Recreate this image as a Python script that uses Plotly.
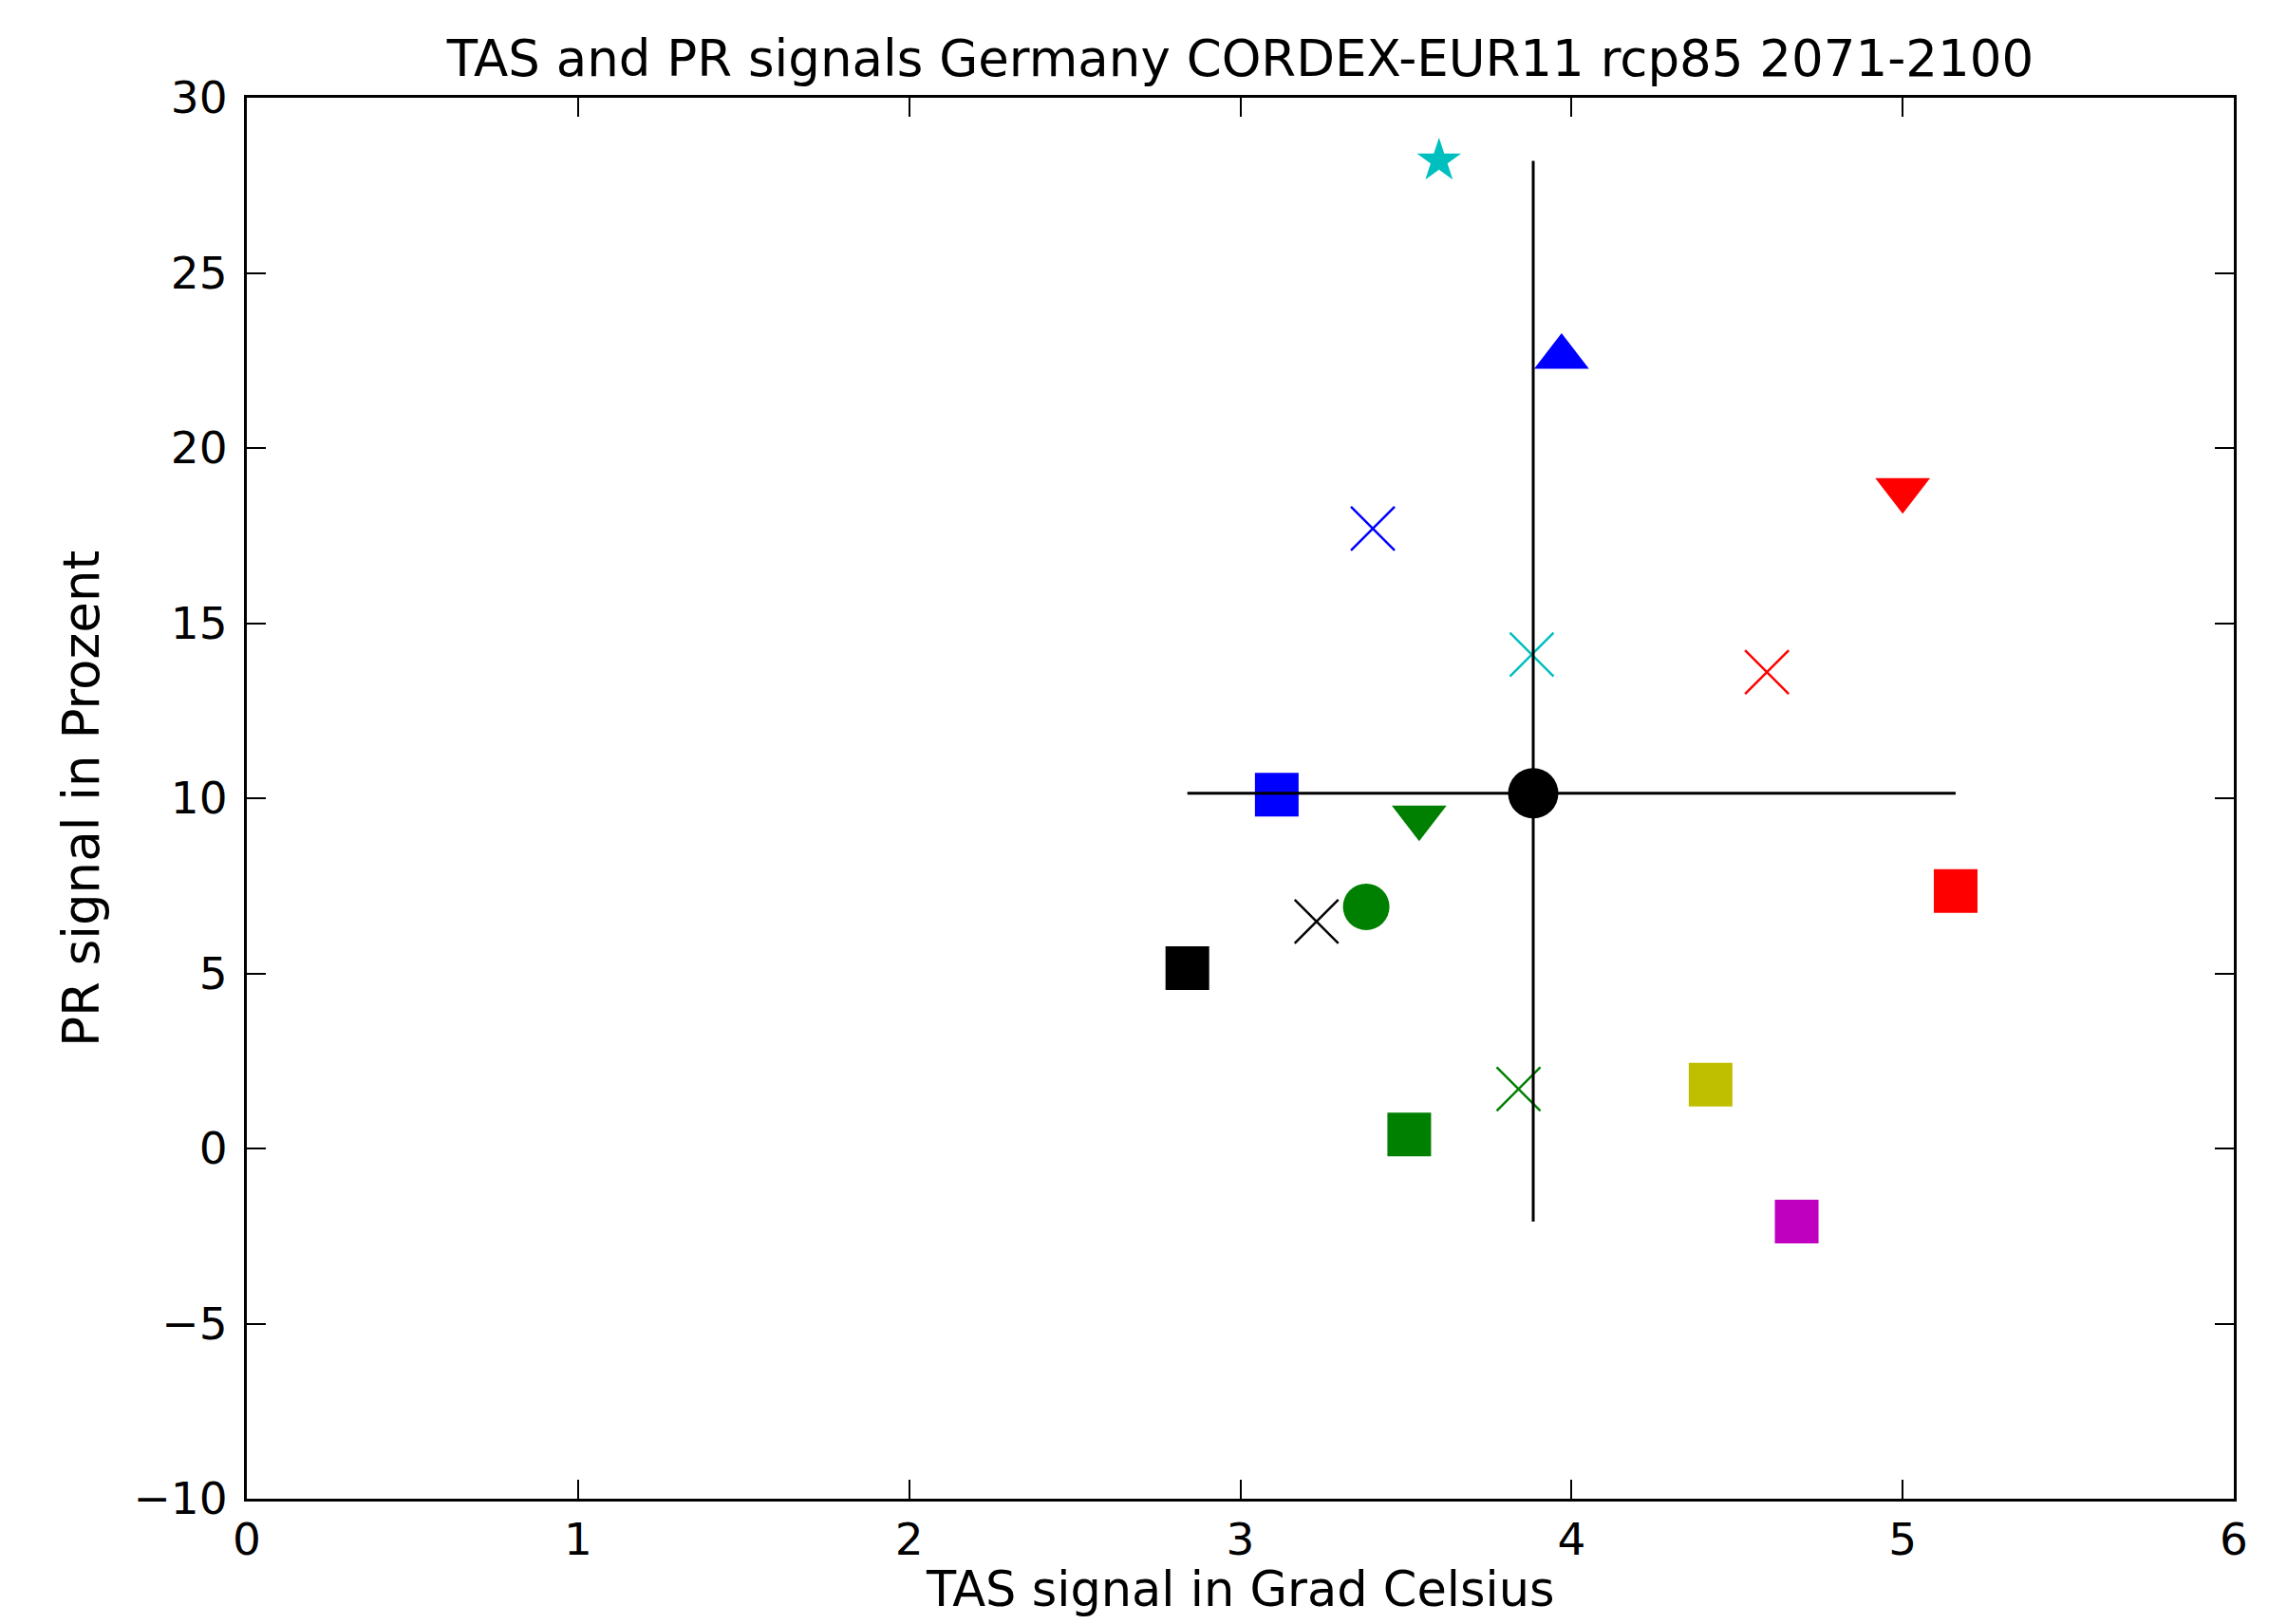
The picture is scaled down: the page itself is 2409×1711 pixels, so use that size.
import numpy as np
import plotly.graph_objects as go

# Model signals (TAS in Grad Celsius, PR in Prozent)
tas = [3.60, 3.97, 5.00, 3.40, 3.88, 4.59, 3.11, 3.54, 5.16, 3.38, 3.23, 2.84, 3.84, 4.42, 3.51, 4.68]
pr = [28.2, 22.6, 18.8, 17.7, 14.1, 13.6, 10.1, 9.45, 7.35, 6.9, 6.48, 5.15, 1.7, 1.82, 0.4, -2.09]
symbols = ["star", "triangle-up", "triangle-down", "x-thin-open", "x-thin-open", "x-thin-open",
           "square", "triangle-down", "square", "circle", "x-thin-open", "square",
           "x-thin-open", "square", "square", "square"]
colors = ["#00bfbf", "#0000ff", "#ff0000", "#0000ff", "#00bfbf", "#ff0000",
          "#0000ff", "#008000", "#ff0000", "#008000", "#000000", "#000000",
          "#008000", "#bfbf00", "#008000", "#bf00bf"]

x_ticks = [0, 1, 2, 3, 4, 5, 6]
y_ticks = [-10, -5, 0, 5, 10, 15, 20, 25, 30]

TITLE = "TAS and PR signals Germany CORDEX-EUR11 rcp85 2071-2100"
XLABEL = "TAS signal in Grad Celsius"
YLABEL = "PR signal in Prozent"

# page body has an 8px margin; figure sized to fit 2409x1711 window
W, H = 2393, 1695
ML, MR, MT, MB = 252, 48, 95, 124
PW = W - ML - MR
PH = H - MT - MB
FONT = "DejaVu Sans"
FS_TICK = 47
FS_TEXT = 53
FS_XLABEL = 51

size_map = {"star": 35, "triangle-up": 50, "triangle-down": 50, "x-thin-open": 46,
            "square": 46, "circle": 49}

fig = go.Figure()
for xv, yv, s, c in zip(tas, pr, symbols, colors):
    if s == "x-thin-open":
        marker = dict(symbol=s, size=size_map[s], color=c, line=dict(color=c, width=2.5))
    else:
        marker = dict(symbol=s, size=size_map[s], color=c, line=dict(width=0))
    fig.add_trace(go.Scatter(x=[xv], y=[yv], mode="markers", marker=marker,
                             showlegend=False, hoverinfo="x+y"))

mx = float(np.mean(tas))
my = float(np.mean(pr))
fig.add_trace(go.Scatter(x=[min(tas), max(tas)], y=[my, my], mode="lines",
                         line=dict(color="black", width=3), showlegend=False))
fig.add_trace(go.Scatter(x=[mx, mx], y=[min(pr), max(pr)], mode="lines",
                         line=dict(color="black", width=3), showlegend=False))
fig.add_trace(go.Scatter(x=[mx], y=[my], mode="markers",
                         marker=dict(symbol="circle", size=53, color="black", line=dict(width=0)),
                         showlegend=False))

axis_common = dict(showgrid=False, zeroline=False, showline=True, linecolor="black",
                   linewidth=3, mirror="ticks", ticks="inside", ticklen=20, tickwidth=1.5,
                   tickcolor="black", tickfont=dict(family=FONT, size=FS_TICK, color="black"))

fig.update_xaxes(range=[0, 6], tickvals=x_ticks, **axis_common)
fig.update_yaxes(range=[-10, 30], tickvals=y_ticks, ticklabelstandoff=8, **axis_common)

fig.update_layout(
    width=W, height=H, autosize=False,
    margin=dict(l=ML, r=MR, t=MT, b=MB, pad=0),
    plot_bgcolor="white", paper_bgcolor="white",
    title=dict(text=TITLE, x=0.5, xref="paper", xanchor="center",
               y=1 - 53 / H, yref="container", yanchor="middle",
               font=dict(family=FONT, size=FS_TEXT, color="black")),
    annotations=[
        dict(text=XLABEL, xref="paper", yref="paper", x=0.5, y=(H - MB - 1666) / PH,
             xanchor="center", yanchor="middle", showarrow=False,
             font=dict(family=FONT, size=FS_XLABEL, color="black")),
        dict(text=YLABEL, xref="paper", yref="paper", x=(77 - ML) / PW, y=(H - MB - 834) / PH,
             xanchor="center", yanchor="middle", textangle=-90, showarrow=False,
             font=dict(family=FONT, size=FS_TEXT, color="black")),
    ],
)

fig.write_html("out.html")
